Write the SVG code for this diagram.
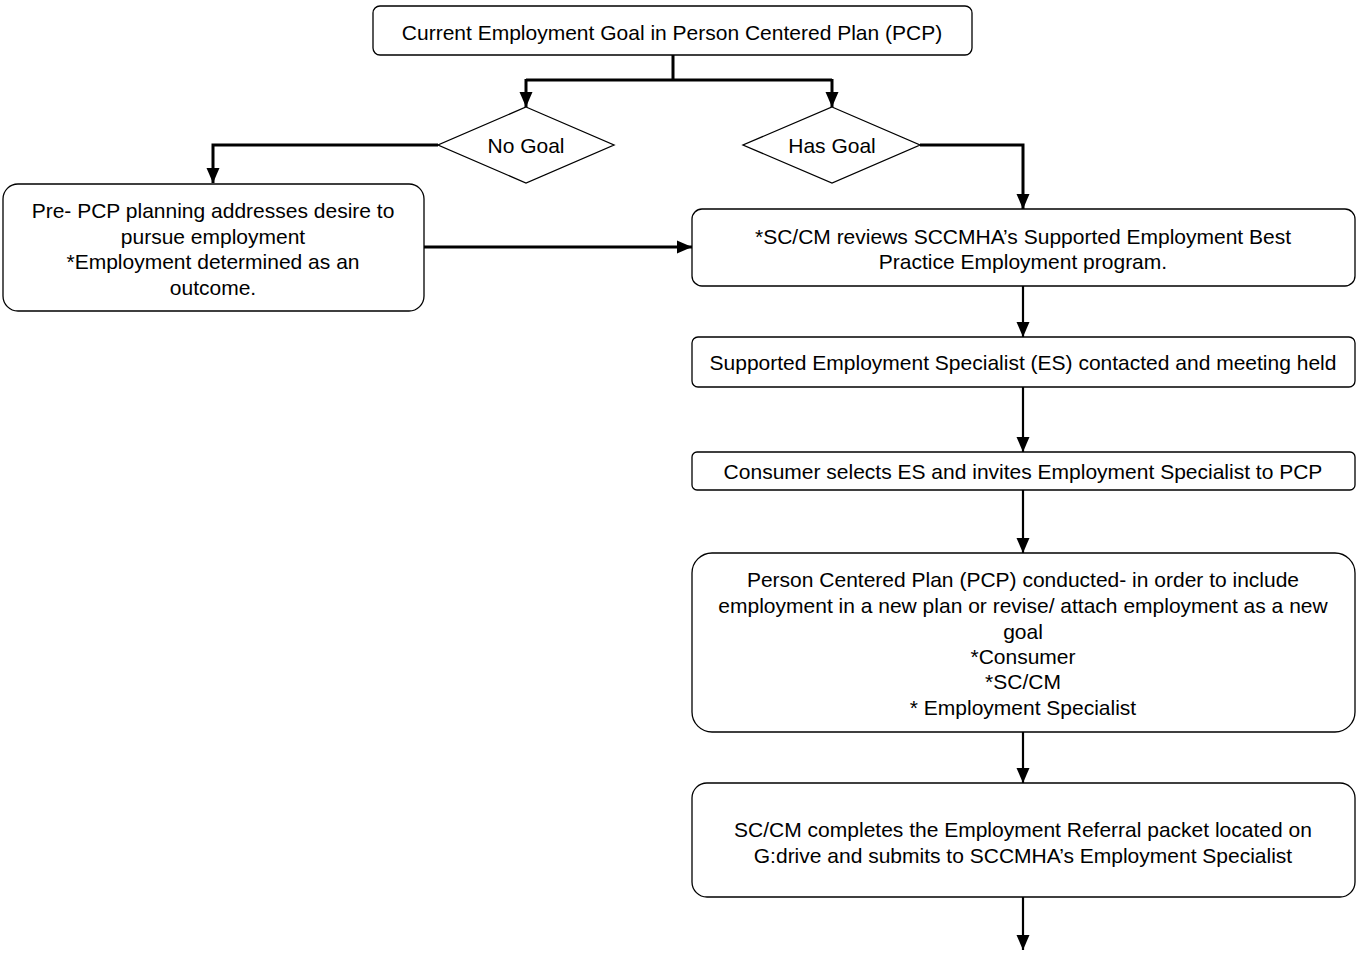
<svg xmlns="http://www.w3.org/2000/svg" width="1357" height="953" viewBox="0 0 1357 953">
  <style>
    .box { fill: #fff; stroke: #000; stroke-width: 1.3; }
    .lbl { font-family: "Liberation Sans", Arial, sans-serif; font-size: 21px; fill: #000; text-anchor: middle; }
    .con { fill: none; stroke: #000; stroke-width: 3; }
    .con2 { fill: none; stroke: #000; stroke-width: 2.2; }
  </style>
  <defs>
    <marker id="arr" markerUnits="userSpaceOnUse" markerWidth="16" markerHeight="16" viewBox="0 0 16 16" refX="15" refY="8" orient="auto">
      <path d="M0,1.5 L15,8 L0,14.5 Z" fill="#000"/>
    </marker>
  </defs>
  <rect width="1357" height="953" fill="#fff"/>

  <g id="connectors">
    <path class="con" d="M673,55 V80 M526,80 H832"/>
    <path class="con" d="M526,79 V107" marker-end="url(#arr)"/>
    <path class="con" d="M832,79 V107" marker-end="url(#arr)"/>
    <path class="con" d="M438,145 H213 V183" marker-end="url(#arr)"/>
    <path class="con" d="M920,145 H1023 V209" marker-end="url(#arr)"/>
    <path class="con" d="M424,247 H692" marker-end="url(#arr)"/>
    <path class="con2" d="M1023,286 V337" marker-end="url(#arr)"/>
    <path class="con2" d="M1023,387 V452" marker-end="url(#arr)"/>
    <path class="con2" d="M1023,490 V553" marker-end="url(#arr)"/>
    <path class="con2" d="M1023,732 V783" marker-end="url(#arr)"/>
    <path class="con2" d="M1023,897 V950" marker-end="url(#arr)"/>
  </g>

  <g id="goal-in-pcp">
    <rect class="box" x="373" y="6" width="599" height="49" rx="7"/>
    <text class="lbl" x="672" y="39.5">Current Employment Goal in Person Centered Plan (PCP)</text>
  </g>

  <g id="no-goal">
    <polygon class="box" points="526,107 614,145 526,183 438,145"/>
    <text class="lbl" x="526" y="152.5">No Goal</text>
  </g>

  <g id="has-goal">
    <polygon class="box" points="832,107 920,145 832,183 743,145"/>
    <text class="lbl" x="832" y="152.5">Has Goal</text>
  </g>

  <g id="pre-pcp">
    <rect class="box" x="3" y="184" width="421" height="127" rx="15"/>
    <text class="lbl" x="213" y="217.5">Pre- PCP planning addresses desire to</text>
    <text class="lbl" x="213" y="243.5">pursue employment</text>
    <text class="lbl" x="213" y="268.5">*Employment determined as an</text>
    <text class="lbl" x="213" y="294.5">outcome.</text>
  </g>

  <g id="sccm-review">
    <rect class="box" x="692" y="209" width="663" height="77" rx="10"/>
    <text class="lbl" x="1023" y="243.5">*SC/CM reviews SCCMHA’s Supported Employment Best</text>
    <text class="lbl" x="1023" y="268.5">Practice Employment program.</text>
  </g>

  <g id="es-contacted">
    <rect class="box" x="692" y="337" width="663" height="50" rx="6"/>
    <text class="lbl" x="1023" y="369.5">Supported Employment Specialist (ES) contacted and meeting held</text>
  </g>

  <g id="consumer-selects">
    <rect class="box" x="692" y="452" width="663" height="38" rx="5"/>
    <text class="lbl" x="1023" y="478.5">Consumer selects ES and invites Employment Specialist to PCP</text>
  </g>

  <g id="pcp-conducted">
    <rect class="box" x="692" y="553" width="663" height="179" rx="20"/>
    <text class="lbl" x="1023" y="586.5">Person Centered Plan (PCP) conducted- in order to include</text>
    <text class="lbl" x="1023" y="612.5">employment in a new plan or revise/ attach employment as a new</text>
    <text class="lbl" x="1023" y="638.5">goal</text>
    <text class="lbl" x="1023" y="663.5">*Consumer</text>
    <text class="lbl" x="1023" y="688.5">*SC/CM</text>
    <text class="lbl" x="1023" y="714.5">* Employment Specialist</text>
  </g>

  <g id="referral-packet">
    <rect class="box" x="692" y="783" width="663" height="114" rx="15"/>
    <text class="lbl" x="1023" y="836.5">SC/CM completes the Employment Referral packet located on</text>
    <text class="lbl" x="1023" y="862.5">G:drive and submits to SCCMHA’s Employment Specialist</text>
  </g>
</svg>
